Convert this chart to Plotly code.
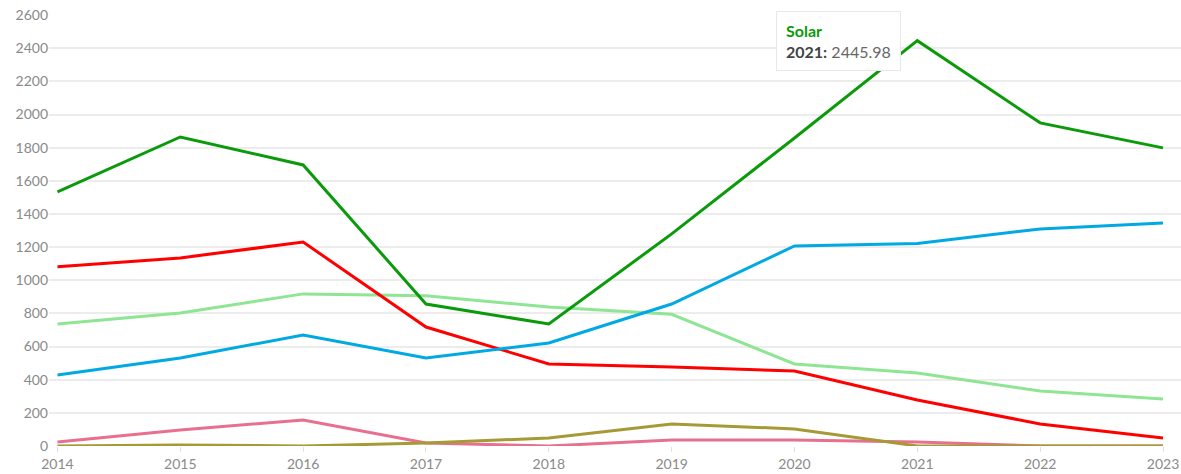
import plotly.graph_objects as go

years = [2014, 2015, 2016, 2017, 2018, 2019, 2020, 2021, 2022, 2023]

solar = [1533, 1865, 1696, 857, 736, 1280, 1859, 2445.98, 1950, 1799]
wind = [429, 531, 670, 531, 622, 857, 1207, 1222, 1310, 1346]
gas = [1081, 1135, 1231, 718, 495, 477, 453, 278, 133, 48]
hydro = [736, 803, 918, 906, 839, 795, 495, 441, 332, 284]
biomass = [24, 97, 157, 18, 0, 36, 36, 24, 0, 0]
other = [0, 6, 0, 18, 48, 133, 103, 0, 0, 0]

y_ticks = list(range(0, 2601, 200))

series = [
    ("Biomass", biomass, "#e8708f"),
    ("Other", other, "#a59a35"),
    ("Hydro", hydro, "#8ee593"),
    ("Gas", gas, "#ff0000"),
    ("Wind", wind, "#00a9e2"),
    ("Solar", solar, "#0a9a0a"),
]

fig = go.Figure()
for name, vals, color in series:
    fig.add_trace(go.Scatter(
        x=years, y=vals, name=name, mode="lines",
        line=dict(color=color, width=3),
        hovertemplate="<b>%{x}:</b> %{y}<extra>" + name + "</extra>",
    ))

fig.add_annotation(
    x=2021, y=2445.98, xref="x", yref="y",
    text="<b><span style='color:#0a9a0a'>Solar</span></b><br><b style='color:#444'>2021:</b> 2445.98",
    showarrow=False, xanchor="right", yanchor="middle", xshift=-16,
    align="left", bgcolor="white", bordercolor="#e8e8e8", borderwidth=1,
    borderpad=9, font=dict(family="Lato, 'Open Sans', sans-serif", size=16, color="#666666"),
)

fig.update_layout(
    width=1181, height=474,
    margin=dict(l=49, r=0, t=15, b=28),
    paper_bgcolor="white", plot_bgcolor="white",
    showlegend=False,
    font=dict(family="Lato, 'Open Sans', sans-serif", size=14, color="#8a8a8a"),
    xaxis=dict(
        range=[2013.931, 2023.1465], tickmode="array", tickvals=years,
        ticktext=[str(y) for y in years], showgrid=False, zeroline=False,
        showline=False, ticks="outside", ticklen=5, tickcolor="#e0e0e0",
        tickfont=dict(size=14, color="#8a8a8a"),
    ),
    yaxis=dict(
        range=[0, 2601], tickmode="array", tickvals=y_ticks,
        showgrid=True, gridcolor="#ececec",
        gridwidth=2, zeroline=False, showline=False, ticks="",
        tickfont=dict(size=14, color="#8a8a8a"),
    ),
)

fig.write_html(
    "out.html",
    config={"displayModeBar": False},
    post_script="document.body.style.margin='0';document.body.style.overflow='hidden';",
)
